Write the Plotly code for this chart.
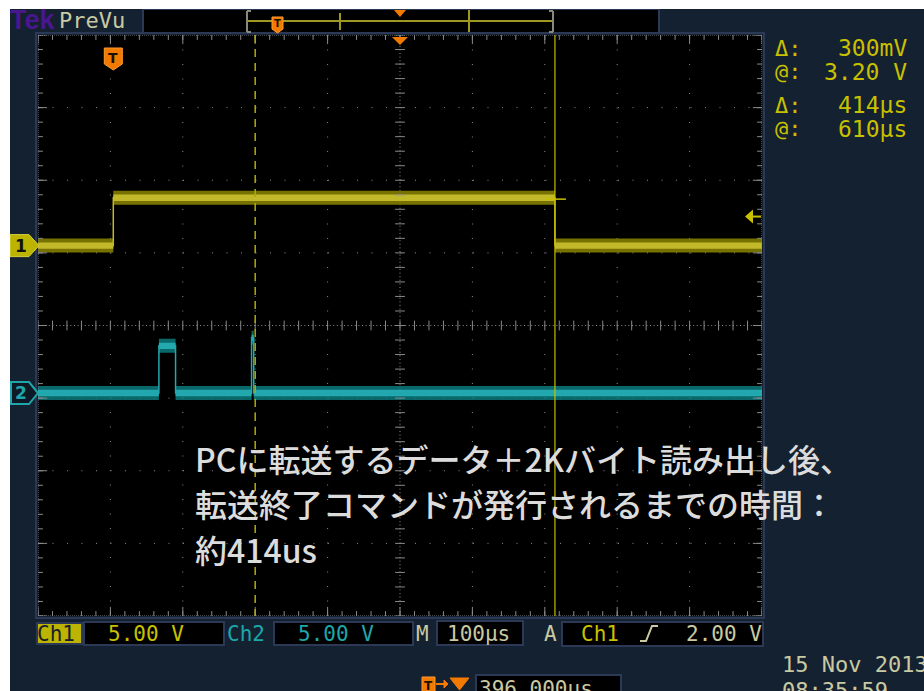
import plotly.graph_objects as go

# ---------------------------------------------------------------- screen geometry
W, H = 924, 691
GX0, GX1, GY0, GY1 = 38, 762, 35, 616          # graticule box (px)
N_HDIV, N_VDIV = 10, 8
DIV_PX_Y = (GY1 - GY0) / N_VDIV

# ---------------------------------------------------------------- acquisition setup
time_per_div_us = 100
trigger_to_center_us = 396.0
volts_per_div = {"Ch1": 5.00, "Ch2": 5.00}
ch_offset_div = {"Ch1": 1.10, "Ch2": -0.93}
trigger_level_v = 2.00

# ---------------------------------------------------------------- waveforms (µs from trigger, volts)
ch1_time_us = [-104, 0, 0, 610, 610, 896]
ch1_volts = [0.0, 0.0, 3.3, 3.3, 0.0, 0.0]

ch2_time_us = [-104, 63, 63, 86, 86, 191, 191, 194, 194, 896]
ch2_volts = [0.0, 0.0, 3.25, 3.25, 0.0, 0.0, 3.8, 3.8, 0.0, 0.0]

# ---------------------------------------------------------------- cursors
cursor_at_us = 610
cursor_delta_us = 414
cursor_at_v = 3.20
cursor_delta_v = 0.300

note_lines = [
    "PCに転送するデータ＋2Kバイト読み出し後、",
    "転送終了コマンドが発行されるまでの時間：",
    "約414us",
]
date_text = "15 Nov 2013"
time_text = "08:35:59"

# ---------------------------------------------------------------- colours
NAVY = "#142131"
FRAME = "#2b3856"
GRID = "#8a8a8a"
YEL = "#c8c000"
YEL_DIM = "#b0aa00"
CYAN = "#1ea6aa"
BEIGE = "#c9c9a2"
ORANGE = "#f37a00"
PURPLE = "#4a168e"

X_LEFT = trigger_to_center_us - N_HDIV / 2 * time_per_div_us
X_RIGHT = trigger_to_center_us + N_HDIV / 2 * time_per_div_us


def fx(px):
    return px / W


def fy(py):
    return 1 - py / H


def to_div(ch, volts):
    return [ch_offset_div[ch] + v / volts_per_div[ch] for v in volts]


fig = go.Figure()

# ---------------------------------------------------------------- waveform bands
def add_channel(ch, t, v, outer, inner):
    y = to_div(ch, v)
    for half_px, col in ((7.0, outer), (3.2, inner)):
        h = half_px / DIV_PX_Y
        fig.add_trace(go.Scatter(
            x=list(t) + list(t[::-1]),
            y=[a + h for a in y] + [a - h for a in y[::-1]],
            fill="toself", fillcolor=col, mode="lines",
            line=dict(width=0), hoverinfo="skip"))
    fig.add_trace(go.Scatter(x=t, y=y, mode="lines",
                             line=dict(color=inner, width=1.5),
                             hoverinfo="skip"))


add_channel("Ch1", ch1_time_us, ch1_volts, "rgba(140,134,0,0.85)", "#c2b92a")
add_channel("Ch2", ch2_time_us, ch2_volts, "rgba(12,122,126,0.85)", "#22a8ae")

# ---------------------------------------------------------------- graticule ticks
minor_x = [X_LEFT + k * time_per_div_us / 5 for k in range(N_HDIV * 5 + 1)]
minor_y = [-N_VDIV / 2 + k * 0.2 for k in range(N_VDIV * 5 + 1)]
major_x = [X_LEFT + k * time_per_div_us for k in range(N_HDIV + 1)]
major_y = [-N_VDIV / 2 + k for k in range(N_VDIV + 1)]
tick_line = dict(color=GRID, width=1)

fig.add_trace(go.Scatter(
    x=minor_x * 3, y=[0] * len(minor_x) + [4] * len(minor_x) + [-4] * len(minor_x),
    mode="markers", hoverinfo="skip",
    marker=dict(symbol="line-ns", size=7, line=tick_line)))
fig.add_trace(go.Scatter(
    y=minor_y * 3,
    x=[trigger_to_center_us] * len(minor_y) + [X_LEFT] * len(minor_y) + [X_RIGHT] * len(minor_y),
    mode="markers", hoverinfo="skip",
    marker=dict(symbol="line-ew", size=7, line=tick_line)))
fig.add_trace(go.Scatter(
    x=major_x * 2, y=[4] * len(major_x) + [-4] * len(major_x),
    mode="markers", hoverinfo="skip",
    marker=dict(symbol="line-ns", size=13, line=tick_line)))
fig.add_trace(go.Scatter(
    y=major_y * 2, x=[X_LEFT] * len(major_y) + [X_RIGHT] * len(major_y),
    mode="markers", hoverinfo="skip",
    marker=dict(symbol="line-ew", size=13, line=tick_line)))

shapes = []

# dotted division lines
for t in major_x[1:-1]:
    dash = "1px,2.6px" if t == trigger_to_center_us else "1px,13.5px"
    shapes.append(dict(type="line", xref="x", yref="y", x0=t, x1=t, y0=4, y1=-4,
                       line=dict(color=GRID, width=1, dash=dash), layer="below"))
for d in major_y[1:-1]:
    dash = "1px,2.6px" if d == 0 else "1px,13.5px"
    shapes.append(dict(type="line", xref="x", yref="y", x0=X_LEFT, x1=X_RIGHT, y0=d, y1=d,
                       line=dict(color=GRID, width=1, dash=dash), layer="below"))

# graticule frame
shapes.append(dict(type="rect", xref="paper", yref="paper",
                   x0=fx(GX0 - 2), x1=fx(GX1 + 2), y0=fy(GY1 + 2), y1=fy(GY0 - 2),
                   line=dict(color=FRAME, width=2), layer="below"))
shapes.append(dict(type="rect", xref="x", yref="y", x0=X_LEFT, x1=X_RIGHT, y0=-4, y1=4,
                   line=dict(color=GRID, width=1, dash="1px,1px"), layer="above"))

# cursors
cursor_from_us = cursor_at_us - cursor_delta_us
shapes.append(dict(type="line", xref="x", yref="y", x0=cursor_from_us, x1=cursor_from_us,
                   y0=4, y1=-4, line=dict(color=YEL_DIM, width=1.5, dash="8px,6px"),
                   layer="above"))
shapes.append(dict(type="line", xref="x", yref="y", x0=cursor_at_us, x1=cursor_at_us,
                   y0=4, y1=-4, line=dict(color=YEL, width=1.2), layer="above"))
cur_y = to_div("Ch1", [cursor_at_v])[0]
shapes.append(dict(type="line", xref="x", yref="y", xsizemode="pixel", xanchor=cursor_at_us,
                   x0=-10, x1=11, y0=cur_y, y1=cur_y,
                   line=dict(color=YEL, width=1.5), layer="above"))

# trigger level arrow on the right edge
trig_y = to_div("Ch1", [trigger_level_v])[0]
shapes.append(dict(type="path", xref="paper", yref="y", ysizemode="pixel", yanchor=trig_y,
                   path=f"M{fx(745)},0 L{fx(753)},7 L{fx(753)},-7 Z",
                   fillcolor=YEL, line=dict(width=0), layer="above"))
shapes.append(dict(type="line", xref="paper", yref="y", ysizemode="pixel", yanchor=trig_y,
                   x0=fx(752), x1=fx(761), y0=0, y1=0,
                   line=dict(color=YEL, width=2), layer="above"))

# trigger position marker (T) and expansion point marker
shapes.append(dict(type="path", xref="x", yref="y", xsizemode="pixel", ysizemode="pixel",
                   xanchor=0, yanchor=4,
                   path="M-9,-13 L9,-13 L9,-29 L0,-35 L-9,-29 Z",
                   fillcolor=ORANGE, line=dict(color="#ff9a30", width=1), layer="above"))
shapes.append(dict(type="path", xref="x", yref="y", xsizemode="pixel", ysizemode="pixel",
                   xanchor=trigger_to_center_us, yanchor=4,
                   path="M-8,-2 L8,-2 L0,-10 Z",
                   fillcolor=ORANGE, line=dict(width=0), layer="above"))

# channel ground markers on the left
shapes.append(dict(type="path", xref="paper", yref="y", ysizemode="pixel",
                   yanchor=ch_offset_div["Ch1"],
                   path=f"M{fx(10)},11 L{fx(29)},11 L{fx(39)},0 L{fx(29)},-11 L{fx(10)},-11 Z",
                   fillcolor="#bcb400", line=dict(color="#d8d040", width=1), layer="above"))
shapes.append(dict(type="path", xref="paper", yref="y", ysizemode="pixel",
                   yanchor=ch_offset_div["Ch2"],
                   path=f"M{fx(11)},11 L{fx(29)},11 L{fx(38)},0 L{fx(29)},-11 L{fx(11)},-11 Z",
                   fillcolor="#0d1a26", line=dict(color=CYAN, width=2), layer="above"))

# ---------------------------------------------------------------- top status bar
shapes.append(dict(type="rect", xref="paper", yref="paper",
                   x0=fx(143), x1=fx(659), y0=fy(33), y1=fy(9),
                   fillcolor="black", line=dict(color=FRAME, width=2), layer="above"))
rec = [
    (fx(247), fy(21), fx(553), fy(21), "#9e9820", 2),
    (fx(247), fy(11), fx(247), fy(32), "#8a8a78", 2),
    (fx(247), fy(11), fx(251), fy(11), "#8a8a78", 2),
    (fx(247), fy(32), fx(251), fy(32), "#8a8a78", 2),
    (fx(553), fy(11), fx(553), fy(32), "#8a8a78", 2),
    (fx(549), fy(11), fx(553), fy(11), "#8a8a78", 2),
    (fx(549), fy(32), fx(553), fy(32), "#8a8a78", 2),
    (fx(340), fy(13), fx(340), fy(30), "#9e9820", 2),
    (fx(469), fy(10), fx(469), fy(32), "#9e9820", 2),
]
for x0, y0, x1, y1, c, w in rec:
    shapes.append(dict(type="line", xref="paper", yref="paper", x0=x0, y0=y0, x1=x1, y1=y1,
                       line=dict(color=c, width=w), layer="above"))
shapes.append(dict(type="path", xref="paper", yref="paper",
                   path=(f"M{fx(272)},{fy(17)} L{fx(283)},{fy(17)} L{fx(283)},{fy(29)} "
                         f"L{fx(277.5)},{fy(33)} L{fx(272)},{fy(29)} Z"),
                   fillcolor=ORANGE, line=dict(color="#ff9a30", width=1), layer="above"))
shapes.append(dict(type="path", xref="paper", yref="paper",
                   path=f"M{fx(394)},{fy(10)} L{fx(406)},{fy(10)} L{fx(400)},{fy(17)} Z",
                   fillcolor=ORANGE, line=dict(width=0), layer="above"))

# ---------------------------------------------------------------- bottom readout boxes
def box(x0, x1, y0, y1, fill="black"):
    shapes.append(dict(type="rect", xref="paper", yref="paper",
                       x0=fx(x0), x1=fx(x1), y0=fy(y1), y1=fy(y0),
                       fillcolor=fill, line=dict(color=FRAME, width=2), layer="above"))


box(37, 82, 623, 644, fill="#bcb400")
box(84, 224, 622, 645)
box(274, 413, 622, 645)
box(437, 523, 621, 645)
box(562, 763, 622, 646)
box(476, 621, 675, 700)

# rising-edge slope symbol
shapes.append(dict(type="path", xref="paper", yref="paper",
                   path=(f"M{fx(640)},{fy(641)} L{fx(646)},{fy(641)} L{fx(652)},{fy(626)} "
                         f"L{fx(658)},{fy(626)}"),
                   line=dict(color=BEIGE, width=2), layer="above"))
# T -> expansion point icon
shapes.append(dict(type="rect", xref="paper", yref="paper",
                   x0=fx(422), x1=fx(435), y0=fy(695), y1=fy(677),
                   fillcolor=ORANGE, line=dict(color="#ff9a30", width=1), layer="above"))
shapes.append(dict(type="line", xref="paper", yref="paper",
                   x0=fx(436), x1=fx(447), y0=fy(684), y1=fy(684),
                   line=dict(color=ORANGE, width=2), layer="above"))
shapes.append(dict(type="path", xref="paper", yref="paper",
                   path=(f"M{fx(444)},{fy(680)} L{fx(448)},{fy(684)} L{fx(444)},{fy(688)} Z "
                         f"M{fx(450)},{fy(678)} L{fx(469)},{fy(678)} L{fx(459.5)},{fy(690)} Z"),
                   fillcolor=ORANGE, line=dict(color=ORANGE, width=1), layer="above"))

# white margins of the capture
shapes.append(dict(type="rect", xref="paper", yref="paper", x0=0, x1=fx(10), y0=0, y1=1,
                   fillcolor="white", line=dict(width=0), layer="above"))
shapes.append(dict(type="rect", xref="paper", yref="paper", x0=0, x1=1, y0=fy(9), y1=1,
                   fillcolor="white", line=dict(width=0), layer="above"))

# ---------------------------------------------------------------- text
MONO = "DejaVu Sans Mono"
ann = []


def text(px, py, s, color, size=20, family=MONO, anchor="left", weight="normal", **kw):
    ann.append(dict(xref="paper", yref="paper", x=fx(px), y=fy(py), text=s,
                    showarrow=False, xanchor=anchor, yanchor="middle",
                    font=dict(family=family, size=size, color=color, weight=weight), **kw))


text(8, 20, "<b>Tek</b>", PURPLE, size=27, family="Liberation Sans")
text(57, 20, "PreVu", BEIGE, size=22)

# cursor readouts
text(773, 48, "Δ:", YEL, size=22)
text(909, 48, f"{cursor_delta_v * 1000:.0f}mV", YEL, size=23, anchor="right")
text(773, 72, "@:", YEL, size=22)
text(909, 72, f"{cursor_at_v:.2f} V", YEL, size=23, anchor="right")
text(773, 105, "Δ:", YEL, size=22)
text(909, 105, f"{cursor_delta_us}µs", YEL, size=23, anchor="right")
text(773, 129, "@:", YEL, size=22)
text(909, 129, f"{cursor_at_us}µs", YEL, size=23, anchor="right")

# bottom settings
text(35, 634, "Ch1", "#18202c", size=21)
text(106, 634, f"{volts_per_div['Ch1']:.2f} V", YEL, size=21)
text(225, 634, "Ch2", CYAN, size=21)
text(296, 634, f"{volts_per_div['Ch2']:.2f} V", CYAN, size=21)
text(414, 634, "M", BEIGE, size=21)
text(445, 634, f"{time_per_div_us}µs", BEIGE, size=21)
text(542, 634, "A", BEIGE, size=21)
text(579, 634, "Ch1", YEL, size=21)
text(764, 634, f"{trigger_level_v:.2f} V", BEIGE, size=21, anchor="right")
text(477, 689, f"{trigger_to_center_us:.3f}µs", BEIGE, size=21)
text(780, 664, date_text, BEIGE, size=22)
text(780, 690, time_text, BEIGE, size=22)

# channel marker digits and T glyphs
ann.append(dict(xref="paper", yref="y", x=fx(21), y=ch_offset_div["Ch1"], text="<b>1</b>",
                showarrow=False, xanchor="center", yanchor="middle",
                font=dict(family="DejaVu Sans", size=17, color="#101010")))
ann.append(dict(xref="paper", yref="y", x=fx(21), y=ch_offset_div["Ch2"], text="<b>2</b>",
                showarrow=False, xanchor="center", yanchor="middle",
                font=dict(family="DejaVu Sans", size=17, color=CYAN)))
ann.append(dict(xref="x", yref="y", x=0, y=4, yshift=-23, text="<b>T</b>",
                showarrow=False, xanchor="center", yanchor="middle",
                font=dict(family="DejaVu Sans", size=14, color="#1a1000")))
text(277.5, 24, "<b>T</b>", "#1a1000", size=10, family="DejaVu Sans", anchor="center")
text(428.5, 686, "<b>T</b>", "#1a1000", size=12, family="DejaVu Sans", anchor="center")

# measurement note
for py, line in zip((458, 503, 549), note_lines):
    text(193, py, line, "#dcdcdc", size=32, family="Noto Sans CJK JP", weight=500)

fig.update_layout(
    width=W, height=H, autosize=False,
    margin=dict(l=0, r=0, t=0, b=0, pad=0),
    paper_bgcolor=NAVY, plot_bgcolor="black",
    showlegend=False, hovermode=False,
    xaxis=dict(domain=[fx(GX0), fx(GX1)], range=[X_LEFT, X_RIGHT], visible=False,
               showgrid=False, zeroline=False, fixedrange=True),
    yaxis=dict(domain=[fy(GY1), fy(GY0)], range=[-N_VDIV / 2, N_VDIV / 2], visible=False,
               showgrid=False, zeroline=False, fixedrange=True),
    shapes=shapes, annotations=ann,
)

fig.write_html("out.html", config={"displayModeBar": False, "staticPlot": True})
